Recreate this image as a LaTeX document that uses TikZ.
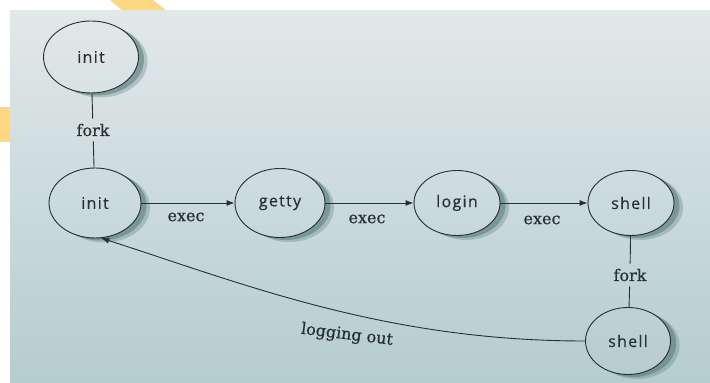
\documentclass[tikz,border=0pt]{standalone}
\usepackage{fontspec}
\setmainfont[FakeBold=0.6]{DejaVu Serif}
\newfontfamily\statefont[LetterSpace=8,FakeBold=0.4]{Open Sans}
\usetikzlibrary{arrows.meta,shapes.geometric}

\definecolor{papertop}{HTML}{E2E8EA}
\definecolor{papermid}{HTML}{D0DEDE}
\definecolor{paperbot}{HTML}{B5CDCC}
\definecolor{ink}{HTML}{263030}
\definecolor{shadecol}{HTML}{4F7673}
\definecolor{tab}{HTML}{FDD882}

\pgfdeclarelayer{paper}
\pgfdeclarelayer{shade}
\pgfsetlayers{paper,shade,main}

% soft crescent behind the lower right rim of an elliptic state
\newcommand\rimshade[3]{%
  \begin{pgfonlayer}{shade}
    \begin{scope}[even odd rule]
      \clip (-10,-10) rectangle (720,400)
        (#1.center) ellipse [x radius=#2pt, y radius=#3pt];
      \fill[shadecol, opacity=0.3, nonzero rule]
        (#1.center) ++(9,-4.5) ellipse [x radius=#2pt, y radius=#3pt];
      \fill[shadecol, opacity=0.5, nonzero rule]
        (#1.center) ++(5.5,-2.5) ellipse [x radius=#2pt, y radius=#3pt];
    \end{scope}
  \end{pgfonlayer}}

\tikzset{
  state/.style={ellipse, draw=ink, line width=0.9pt, inner sep=0pt,
    text=ink, font=\statefont\fontsize{16}{18}\selectfont},
  lbl/.style={text=ink, font=\fontsize{16}{18}\selectfont, inner xsep=2pt, inner ysep=5pt},
  link/.style={draw=ink, line width=0.9pt},
  arr/.style={link, -{Latex[length=8pt,width=6pt]}}
}

\begin{document}
\begin{tikzpicture}[x=1pt,y=1pt]
\useasboundingbox (0,0) rectangle (710,383);

% page photograph and the corner tabs
\begin{pgfonlayer}{paper}
  \fill[white] (0,0) rectangle (710,383);
  \fill[tab] (110,383) -- (153,383) -- (167,372) -- (123,372) -- cycle;
  \fill[tab] (0,241) rectangle (10,276);
  \shade[top color=papertop, middle color=papermid, bottom color=paperbot]
    (10,0) rectangle (710,372);
\end{pgfonlayer}

% states
\node[state, minimum width=95, minimum height=72] (init0) at (91,326) {init};
\node[state, minimum width=92, minimum height=70] (init1) at (95,180) {init};
\node[state, minimum width=90, minimum height=69] (getty) at (280,180) {getty};
\node[state, minimum width=86, minimum height=65] (login) at (457,180) {login};
\node[state, minimum width=86, minimum height=65] (shell1) at (631,180) {shell};
\node[state, minimum width=85, minimum height=67] (shell2) at (628,42) {shell};

\rimshade{init0}{47.5}{36}
\rimshade{init1}{46}{35}
\rimshade{getty}{45}{34.5}
\rimshade{login}{43}{32.5}
\rimshade{shell1}{43}{32.5}
\rimshade{shell2}{42.5}{33.5}

% labels
\node[lbl] (fork0) at (93,253) {fork};
\node[lbl] (fork1) at (630,108) {fork};
\node[lbl] (exec0) at (186,166) {exec};
\node[lbl] (exec1) at (367,164) {exec};
\node[lbl] (exec2) at (542,163) {exec};
\node[lbl, rotate=-7] (logout) at (347,48) {logging out};

% transitions
\draw[link] (init0) -- (fork0) -- (init1);
\draw[link] (shell1) -- (fork1) -- (shell2);
\draw[arr] (init1) -- (getty);
\draw[arr] (getty) -- (login);
\draw[arr] (login) -- (shell1);
\draw[arr] (shell2.west) .. controls +(-200,0) and +(143,-46) .. (init1.-80);
\end{tikzpicture}
\end{document}
